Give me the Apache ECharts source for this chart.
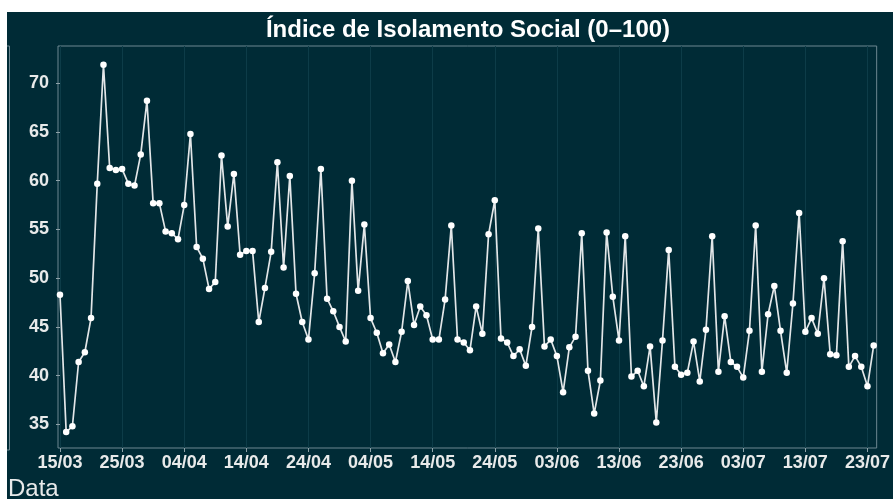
<!DOCTYPE html>
<html>
<head>
<meta charset="utf-8">
<script src="https://cdn.jsdelivr.net/npm/echarts@6/dist/echarts.min.js"></script>
<style>
html,body{margin:0;padding:0;background:#ffffff;width:893px;height:499px;overflow:hidden;}
#chart{position:absolute;left:7px;top:12px;width:886px;height:487px;}
</style>
</head>
<body>
<div id="chart"></div>
<script>
// Day offsets from 15/03 and their tick labels
const tickDays = [0, 10, 20, 30, 40, 50, 60, 70, 80, 90, 100, 110, 120, 130];
const tickLabels = ['15/03', '25/03', '04/04', '14/04', '24/04', '04/05', '14/05', '24/05', '03/06', '13/06', '23/06', '03/07', '13/07', '23/07'];
const yTicks = [35, 40, 45, 50, 55, 60, 65, 70];
// Daily index, 15/03 .. 24/07
const values = [
  48.3, 34.2, 34.8, 41.4, 42.4, 45.9, 59.7, 71.9, 61.3, 61.1, 61.2, 59.7, 59.5, 62.7, 68.2, 57.7, 57.7, 54.8, 54.6, 54.0, 57.5, 64.8,
  53.2, 52.0, 48.9, 49.6, 62.6, 55.3, 60.7, 52.4, 52.8, 52.8, 45.5, 49.0, 52.7, 61.9, 51.1, 60.5, 48.4, 45.5, 43.7, 50.5, 61.2, 47.9,
  46.6, 45.0, 43.5, 60.0, 48.7, 55.5, 45.9, 44.4, 42.3, 43.2, 41.4, 44.5, 49.7, 45.2, 47.1, 46.2, 43.7, 43.7, 47.8, 55.4, 43.7, 43.4,
  42.6, 47.1, 44.3, 54.5, 58.0, 43.8, 43.4, 42.0, 42.7, 41.0, 45.0, 55.1, 43.0, 43.7, 42.0, 38.3, 42.9, 44.0, 54.6, 40.5, 36.1,
  39.5, 54.7, 48.1, 43.6, 54.3, 39.9, 40.5, 38.9, 43.0, 35.2, 43.6, 52.9, 40.9, 40.1, 40.3, 43.5, 39.4, 44.7, 54.3, 40.4, 46.1, 41.4,
  40.9, 39.8, 44.6, 55.4, 40.4, 46.3, 49.2, 44.6, 40.3, 47.4, 56.7, 44.5, 45.9, 44.3, 50.0, 42.2, 42.1, 53.8, 40.9, 42.0, 40.9, 38.9, 43.1
];
const titleText = 'Índice de Isolamento Social (0–100)';
const xName = 'Data';

const chart = echarts.init(document.getElementById('chart'), null, {renderer: 'canvas'});
const labelMap = {};
tickDays.forEach((d, i) => { labelMap[d] = tickLabels[i]; });

const option = {
  animation: false,
  backgroundColor: '#002b36',
  grid: {
    left: 51, right: 15, top: 34, bottom: 51,
    show: true, borderColor: '#6d8891', borderWidth: 1,
    backgroundColor: 'transparent'
  },
  xAxis: {
    type: 'value',
    min: -0.32, max: 131.48,
    axisLine: {show: false},
    axisTick: {show: true, length: 4, customValues: tickDays, lineStyle: {color: '#8ea2a8', width: 1}},
    axisLabel: {
      customValues: tickDays,
      formatter: v => labelMap[Math.round(v)] || '',
      color: '#e8eaea', fontFamily: 'Liberation Sans', fontWeight: 'bold', fontSize: 18, margin: 6
    },
    splitLine: {show: true, lineStyle: {color: '#0d3c48', width: 1}}
  },
  yAxis: {
    type: 'value',
    min: 32.57, max: 73.83,
    axisLine: {show: false},
    axisTick: {show: true, length: 4, customValues: yTicks, lineStyle: {color: '#8ea2a8', width: 1}},
    axisLabel: {
      customValues: yTicks,
      color: '#e8eaea', fontFamily: 'Liberation Sans', fontWeight: 'bold', fontSize: 18, margin: 9
    },
    splitLine: {show: false}
  },
  series: [{
    type: 'line',
    data: values.map((v, i) => [i, v]),
    symbol: 'circle',
    symbolSize: 6.5,
    showSymbol: true,
    lineStyle: {color: '#e2e6e8', width: 1.7},
    itemStyle: {color: '#ffffff', borderWidth: 0},
    z: 3
  }],
  graphic: [
    {
      type: 'text', x: 461, y: 18, z: 10,
      style: {text: titleText, fill: '#ffffff', font: 'bold 24px "Liberation Sans"', align: 'center', verticalAlign: 'middle', textAlign: 'center', textVerticalAlign: 'middle'}
    },
    {
      type: 'text', x: 1, y: 477, z: 10,
      style: {text: xName, fill: '#e8eaea', font: '24px "Liberation Sans"', align: 'left', verticalAlign: 'middle', textAlign: 'left', textVerticalAlign: 'middle'}
    },
    {
      type: 'polyline', z: 5,
      shape: {points: [[0, 34], [2.5, 34], [2.5, 438], [0, 438]]},
      style: {stroke: '#6d8891', lineWidth: 1, fill: null}
    }
  ]
};
chart.setOption(option);
</script>
</body>
</html>
